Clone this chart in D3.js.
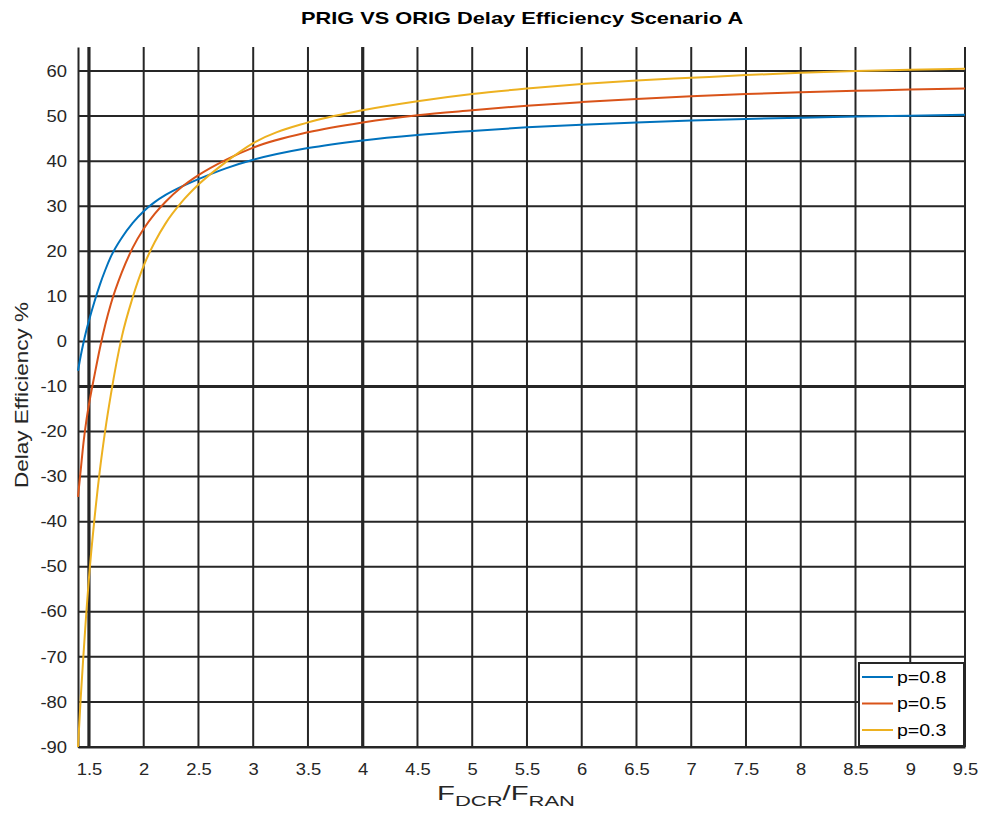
<!DOCTYPE html>
<html>
<head>
<meta charset="utf-8">
<script src="https://cdn.jsdelivr.net/npm/d3@7"></script>
<style>
  body { margin: 0; background: #fff; }
  svg { font-family: "Liberation Sans", Arial, sans-serif; }
</style>
</head>
<body>
<div id="chart"></div>
<script>
// values
var xValues = [1.4, 1.425, 1.45, 1.475, 1.5, 1.55, 1.6, 1.65, 1.7, 1.8, 1.9, 2.0, 2.1, 2.2, 2.35, 2.5, 2.75, 3.0, 3.5, 4, 4.5, 5, 5.5, 6, 6.5, 7, 7.5, 8, 8.5, 9, 9.5];
var p08 = [-6.5, -3.2, -0.3, 2.3, 4.6, 8.8, 12.6, 15.9, 18.8, 23.0, 26.3, 28.9, 30.9, 32.5, 34.4, 36.0, 38.4, 40.3, 42.9, 44.6, 45.8, 46.7, 47.5, 48.1, 48.6, 49.0, 49.35, 49.65, 49.9, 50.1, 50.3];
var p05 = [-34.5, -28.5, -22.5, -17.8, -14.0, -7.6, -1.5, 3.8, 8.3, 15.3, 20.8, 25.0, 28.3, 31.0, 34.3, 36.9, 40.3, 43.0, 46.4, 48.6, 50.2, 51.3, 52.3, 53.1, 53.8, 54.4, 54.9, 55.3, 55.6, 55.9, 56.1];
var p03 = [-90, -79, -69.5, -60.5, -52.5, -39.5, -28.5, -19.5, -11.8, 1.0, 9.8, 16.8, 22.0, 26.2, 31.0, 34.8, 39.8, 44.0, 48.6, 51.3, 53.3, 54.9, 56.1, 57.1, 57.9, 58.5, 59.1, 59.6, 60.0, 60.3, 60.5];
var seriesNames = ["p=0.8", "p=0.5", "p=0.3"];
var seriesColors = ["#0072BD", "#D95319", "#EDB120"];
var xTicks = [1.5, 2, 2.5, 3, 3.5, 4, 4.5, 5, 5.5, 6, 6.5, 7, 7.5, 8, 8.5, 9, 9.5];
var yTicks = [-90, -80, -70, -60, -50, -40, -30, -20, -10, 0, 10, 20, 30, 40, 50, 60];
var thickX = [1.5, 4];
var thickY = [-10];

var width = 982, height = 817;
var pLeft = 78, pRight = 965, pTop = 47, pBottom = 747;
var stretch = 1.15; // reference text is drawn a bit wide

var x = d3.scaleLinear().domain([1.4, 9.5]).range([pLeft, pRight]);
var y = d3.scaleLinear().domain([-90, 65.33]).range([pBottom, pTop]);

var svg = d3.select("#chart").append("svg")
  .attr("width", width)
  .attr("height", height);

// stretch a text horizontally so it spans w pixels
function fitWidth(sel, w) {
  var bw = sel.node().getBBox().width;
  return bw > 0 ? w / bw : 1;
}

// grid
var grid = svg.append("g").attr("stroke", "#262626");
grid.selectAll(".gx")
  .data(xTicks)
  .join("line")
    .attr("class", "gx")
    .attr("x1", d => x(d)).attr("x2", d => x(d))
    .attr("y1", pTop).attr("y2", pBottom)
    .attr("stroke-width", d => thickX.includes(d) ? 3.2 : 2);
grid.selectAll(".gy")
  .data(yTicks)
  .join("line")
    .attr("class", "gy")
    .attr("x1", pLeft).attr("x2", pRight)
    .attr("y1", d => y(d)).attr("y2", d => y(d))
    .attr("stroke-width", d => thickY.includes(d) ? 3.2 : 2);

// axes
var gx = svg.append("g").attr("transform", `translate(0,${pBottom})`)
  .call(d3.axisBottom(x).tickValues(xTicks).tickSize(0).tickPadding(17).tickFormat(d => String(d)));
gx.select(".domain").attr("stroke", "#262626").attr("stroke-width", 2);
gx.selectAll("text")
  .attr("font-size", 16).attr("fill", "#262626")
  .attr("font-family", "Liberation Sans, Arial, sans-serif")
  .attr("transform", `scale(${stretch},1)`);

var gy = svg.append("g").attr("transform", `translate(${pLeft},0)`)
  .call(d3.axisLeft(y).tickValues(yTicks).tickSize(0).tickPadding(10).tickFormat(d => String(d)));
gy.select(".domain").attr("stroke", "#262626").attr("stroke-width", 2);
gy.selectAll("text")
  .attr("x", -11 / stretch)
  .attr("font-size", 16).attr("fill", "#262626")
  .attr("font-family", "Liberation Sans, Arial, sans-serif")
  .attr("transform", `scale(${stretch},1)`);

// curves
var series = [p08, p05, p03];
var line = d3.line()
  .x((d, i) => x(xValues[i]))
  .y(d => y(d))
  .curve(d3.curveMonotoneX);

svg.append("g")
  .attr("fill", "none")
  .selectAll("path")
  .data(series)
  .join("path")
    .attr("stroke", (d, i) => seriesColors[i])
    .attr("stroke-width", 2)
    .attr("d", line);

// legend
var lg = svg.append("g");
lg.append("rect")
  .attr("x", 859).attr("y", 663)
  .attr("width", 105).attr("height", 83)
  .attr("fill", "#fff")
  .attr("stroke", "#262626").attr("stroke-width", 2);
var items = lg.selectAll(".item")
  .data(seriesNames)
  .join("g")
    .attr("class", "item")
    .attr("transform", (d, i) => `translate(0,${677 + i * 26.5})`);
items.append("line")
  .attr("x1", 862).attr("x2", 893)
  .attr("stroke", (d, i) => seriesColors[i])
  .attr("stroke-width", 2);
items.append("text")
  .attr("x", 897 / stretch).attr("dy", "0.35em")
  .attr("font-size", 17).attr("fill", "#000")
  .attr("transform", `scale(${stretch},1)`)
  .text(d => d);

// title and labels
var title = svg.append("text")
  .attr("text-anchor", "middle")
  .attr("font-size", 16).attr("font-weight", "bold")
  .text("PRIG VS ORIG Delay Efficiency Scenario A");
title.attr("transform", `translate(522,24) scale(${fitWidth(title, 443)},1)`);

var yl = svg.append("text")
  .attr("text-anchor", "middle")
  .attr("font-size", 19).attr("fill", "#262626")
  .text("Delay Efficiency %");
yl.attr("transform", `translate(28,395) rotate(-90) scale(${fitWidth(yl, 186)},1)`);

var xl = svg.append("text")
  .attr("text-anchor", "middle")
  .attr("font-size", 20).attr("fill", "#262626");
xl.append("tspan").text("F");
xl.append("tspan").attr("font-size", 15).attr("dy", 6).text("DCR");
xl.append("tspan").attr("dy", -6).text("/F");
xl.append("tspan").attr("font-size", 15).attr("dy", 6).text("RAN");
xl.attr("transform", `translate(506,800) scale(${fitWidth(xl, 138)},1)`);
</script>
</body>
</html>
